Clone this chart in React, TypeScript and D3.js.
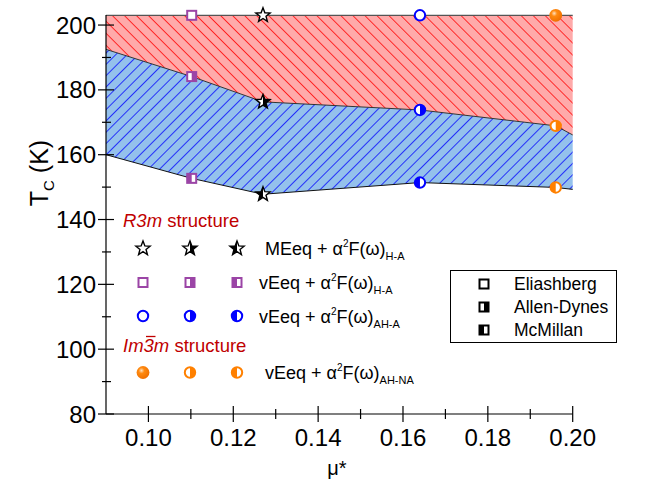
import React from "react";
import * as d3 from "d3";

// ---- data ----
const muValues = [0.1102, 0.127, 0.164, 0.196];
const markerKinds = ["square", "star", "circle", "sphere"];
const markerColors = ["#9b45a6", "#000000", "#0000ff", "#ff8000"];
const tcEliashberg = [203, 203, 203, 203];
const tcAllenDynes = [184.1, 176.3, 173.8, 168.9];
const tcMcMillan = [152.7, 147.8, 151.4, 149.9];

const boundaryMu = [0.09, 0.1102, 0.127, 0.164, 0.196, 0.2];
const upperBoundary = [203, 203, 203, 203, 203, 203];
const middleBoundary = [192.5, 184.1, 176.3, 173.8, 168.9, 166.1];
const lowerBoundary = [160, 152.7, 147.8, 151.4, 149.9, 149.3];

const xTicks = [0.1, 0.12, 0.14, 0.16, 0.18, 0.2];
const xMinorTicks = [0.11, 0.13, 0.15, 0.17, 0.19];
const yTicks = [80, 100, 120, 140, 160, 180, 200];
const yMinorTicks = [90, 110, 130, 150, 170, 190];

const legendMethods = ["Eliashberg", "Allen-Dynes", "McMillan"];

const W = 670;
const H = 481;
const FONT = "'Liberation Sans', Arial, sans-serif";

const x = d3.scaleLinear().domain([0.09, 0.2]).range([106, 572.7]);
const y = d3.scaleLinear().domain([80, 203.1]).range([414, 15]);

let uid = 0;

function starPath(cx: number, cy: number, R: number, r: number) {
  const pts: [number, number][] = [];
  for (let i = 0; i < 10; i++) {
    const a = -Math.PI / 2 + (i * Math.PI) / 5;
    const rad = i % 2 === 0 ? R : r;
    pts.push([cx + rad * Math.cos(a), cy + rad * Math.sin(a)]);
  }
  return "M" + pts.map((p) => p.join(",")).join("L") + "Z";
}

type Fill = "open" | "right" | "left" | "full";

function Marker({ kind, cx, cy, color, fill }: { kind: string; cx: number; cy: number; color: string; fill: Fill }) {
  const id = `clip${uid++}`;
  let shape: (props: any) => React.ReactElement;
  let sw = 2;
  let half = 7;
  if (kind === "star") {
    const d = starPath(cx, cy, 7.5, 3.2);
    shape = (p) => <path d={d} {...p} />;
    sw = 1.4;
    half = 8;
  } else if (kind === "square") {
    shape = (p) => <rect x={cx - 4.5} y={cy - 4.5} width={9} height={9} {...p} />;
    half = 6;
  } else {
    shape = (p) => <circle cx={cx} cy={cy} r={5.2} {...p} />;
    half = 7;
  }
  if (kind === "sphere" && fill === "full") {
    return (
      <g>
        <circle cx={cx} cy={cy} r={6.4} fill="url(#sphereGrad)" />
      </g>
    );
  }
  return (
    <g>
      {shape({ fill: "#fff", stroke: "none" })}
      {fill !== "open" && (
        <>
          <clipPath id={id}>
            <rect x={fill === "right" ? cx : cx - half} y={cy - half} width={half} height={half * 2} />
          </clipPath>
          <g clipPath={`url(#${id})`}>{shape({ fill: color, stroke: "none" })}</g>
        </>
      )}
      {shape({ fill: "none", stroke: color, strokeWidth: sw, strokeLinejoin: "miter" })}
    </g>
  );
}

function FormulaText({ x0, y0, pre, sub }: { x0: number; y0: number; pre: string; sub: string }) {
  return (
    <text x={x0} y={y0} fontFamily={FONT} fontSize={18} fill="#000">
      {pre} + α
      <tspan fontSize={10} dy={-8}>2</tspan>
      <tspan dy={8}>F(ω)</tspan>
      <tspan fontSize={11} dy={5}>{sub}</tspan>
    </text>
  );
}

export default function App() {
  uid = 0;
  const areaRed = d3
    .area<number>()
    .x((_, i) => x(boundaryMu[i]))
    .y0((_, i) => y(middleBoundary[i]))
    .y1((_, i) => y(upperBoundary[i]));
  const areaBlue = d3
    .area<number>()
    .x((_, i) => x(boundaryMu[i]))
    .y0((_, i) => y(lowerBoundary[i]))
    .y1((_, i) => y(middleBoundary[i]));
  const line = (vals: number[]) =>
    d3
      .line<number>()
      .x((_, i) => x(boundaryMu[i]))
      .y((v) => y(v))(vals) as string;

  const legendRows = [
    { kind: "star", color: "#000", cy: 248.5, tx: 265, pre: "MEeq", sub: "H-A" },
    { kind: "square", color: "#9b45a6", cy: 282.5, tx: 259, pre: "vEeq", sub: "H-A" },
    { kind: "circle", color: "#0000ff", cy: 316, tx: 259, pre: "vEeq", sub: "AH-A" },
    { kind: "sphere", color: "#ff8000", cy: 372.5, tx: 265, pre: "vEeq", sub: "AH-NA" },
  ];
  const legendXs = [143, 190, 237];
  const legendFills: Fill[] = ["open", "right", "left"];

  return (
    <svg width={W} height={H} style={{ position: "absolute", left: 0, top: 0 }}>
      <defs>
        <pattern id="hatchRed" patternUnits="userSpaceOnUse" width={8.5} height={8.5} patternTransform="rotate(-45)">
          <rect width={8.5} height={8.5} fill="#ffaaaa" />
          <line x1={0} y1={0} x2={0} y2={8.5} stroke="#ff0000" strokeWidth={1.5} />
        </pattern>
        <pattern id="hatchBlue" patternUnits="userSpaceOnUse" width={8} height={8} patternTransform="rotate(45)">
          <rect width={8} height={8} fill="#94c1ec" />
          <line x1={0} y1={0} x2={0} y2={8} stroke="#0000ff" strokeWidth={1.5} />
        </pattern>
        <radialGradient id="sphereGrad" cx="0.38" cy="0.35" r="0.65">
          <stop offset="0" stopColor="#ffe0c0" />
          <stop offset="0.35" stopColor="#ff8a10" />
          <stop offset="1" stopColor="#f07000" />
        </radialGradient>
      </defs>

      {/* regions */}
      <path d={areaRed(boundaryMu) as string} fill="url(#hatchRed)" />
      <path d={areaBlue(boundaryMu) as string} fill="url(#hatchBlue)" />
      <path d={line(upperBoundary)} fill="none" stroke="#555" strokeWidth={1.2} />
      <path d={line(middleBoundary)} fill="none" stroke="#333" strokeWidth={1} />
      <path d={line(lowerBoundary)} fill="none" stroke="#111" strokeWidth={1} />

      {/* axes */}
      <line x1={x(0.09)} x2={x(0.2)} y1={y(80)} y2={y(80)} stroke="#000" strokeWidth={1.2} />
      <line x1={x(0.09)} x2={x(0.09)} y1={y(80)} y2={y(203.1)} stroke="#000" strokeWidth={1.2} />
      {xTicks.map((t) => (
        <g key={"xt" + t}>
          <line x1={x(t)} x2={x(t)} y1={y(80) - 8} y2={y(80) + 8} stroke="#000" strokeWidth={1.2} />
          <text x={x(t)} y={446} textAnchor="middle" fontFamily={FONT} fontSize={24} fill="#000">
            {t.toFixed(2)}
          </text>
        </g>
      ))}
      {xMinorTicks.map((t) => (
        <line key={"xm" + t} x1={x(t)} x2={x(t)} y1={y(80) - 5} y2={y(80) + 5} stroke="#000" strokeWidth={1.2} />
      ))}
      {yTicks.map((t) => (
        <g key={"yt" + t}>
          <line x1={x(0.09) - 8} x2={x(0.09) + 8} y1={y(t)} y2={y(t)} stroke="#000" strokeWidth={1.2} />
          <text x={96} y={y(t) + 8.5} textAnchor="end" fontFamily={FONT} fontSize={24} fill="#000">
            {t}
          </text>
        </g>
      ))}
      {yMinorTicks.map((t) => (
        <line key={"ym" + t} x1={x(0.09) - 4} x2={x(0.09) + 5} y1={y(t)} y2={y(t)} stroke="#000" strokeWidth={1.2} />
      ))}

      {/* axis titles */}
      <text transform="translate(48,173) rotate(-90)" textAnchor="middle" fontFamily={FONT} fontSize={25} fill="#000">
        T<tspan fontSize={15} dy={6}>C</tspan>
        <tspan dy={-6}> (K)</tspan>
      </text>
      <text x={337} y={475} textAnchor="middle" fontFamily={FONT} fontSize={20} fill="#000">
        μ*
      </text>

      {/* data markers */}
      {muValues.map((m, i) => (
        <g key={"m" + i}>
          <Marker kind={markerKinds[i]} cx={x(m)} cy={y(tcEliashberg[i])} color={markerColors[i]} fill={markerKinds[i] === "sphere" ? "full" : "open"} />
          <Marker kind={markerKinds[i]} cx={x(m)} cy={y(tcAllenDynes[i])} color={markerColors[i]} fill="right" />
          <Marker kind={markerKinds[i]} cx={x(m)} cy={y(tcMcMillan[i])} color={markerColors[i]} fill="left" />
        </g>
      ))}

      {/* left legend */}
      <text x={123} y={227} fontFamily={FONT} fontSize={18.5} fill="#c00000">
        <tspan fontStyle="italic">R3m</tspan> structure
      </text>
      <text x={123} y={351.5} fontFamily={FONT} fontSize={18.5} fill="#c00000">
        <tspan fontStyle="italic">Im</tspan>
        <tspan fontStyle="italic">3</tspan>
        <tspan fontStyle="italic">m</tspan> structure
      </text>
      <line x1={146} x2={155.5} y1={336.5} y2={336.5} stroke="#c00000" strokeWidth={1.3} />
      {legendRows.map((r, ri) => (
        <g key={"lr" + ri}>
          {legendXs.map((lx, j) => (
            <Marker
              key={"lm" + j}
              kind={r.kind}
              cx={lx}
              cy={r.cy}
              color={r.color}
              fill={r.kind === "sphere" && j === 0 ? "full" : legendFills[j]}
            />
          ))}
          <FormulaText x0={r.tx} y0={r.cy + 6.5} pre={r.pre} sub={r.sub} />
        </g>
      ))}

      {/* right legend box */}
      <rect x={450.5} y={270.5} width={166} height={72} fill="#fff" stroke="#000" strokeWidth={1} />
      {legendMethods.map((name, i) => {
        const cy = 284 + i * 23;
        const fills: Fill[] = ["open", "right", "left"];
        return (
          <g key={name}>
            <Marker kind="square" cx={484} cy={cy} color="#000" fill={fills[i]} />
            <text x={514} y={cy + 6} fontFamily={FONT} fontSize={17.5} fill="#000">
              {name}
            </text>
          </g>
        );
      })}
    </svg>
  );
}
